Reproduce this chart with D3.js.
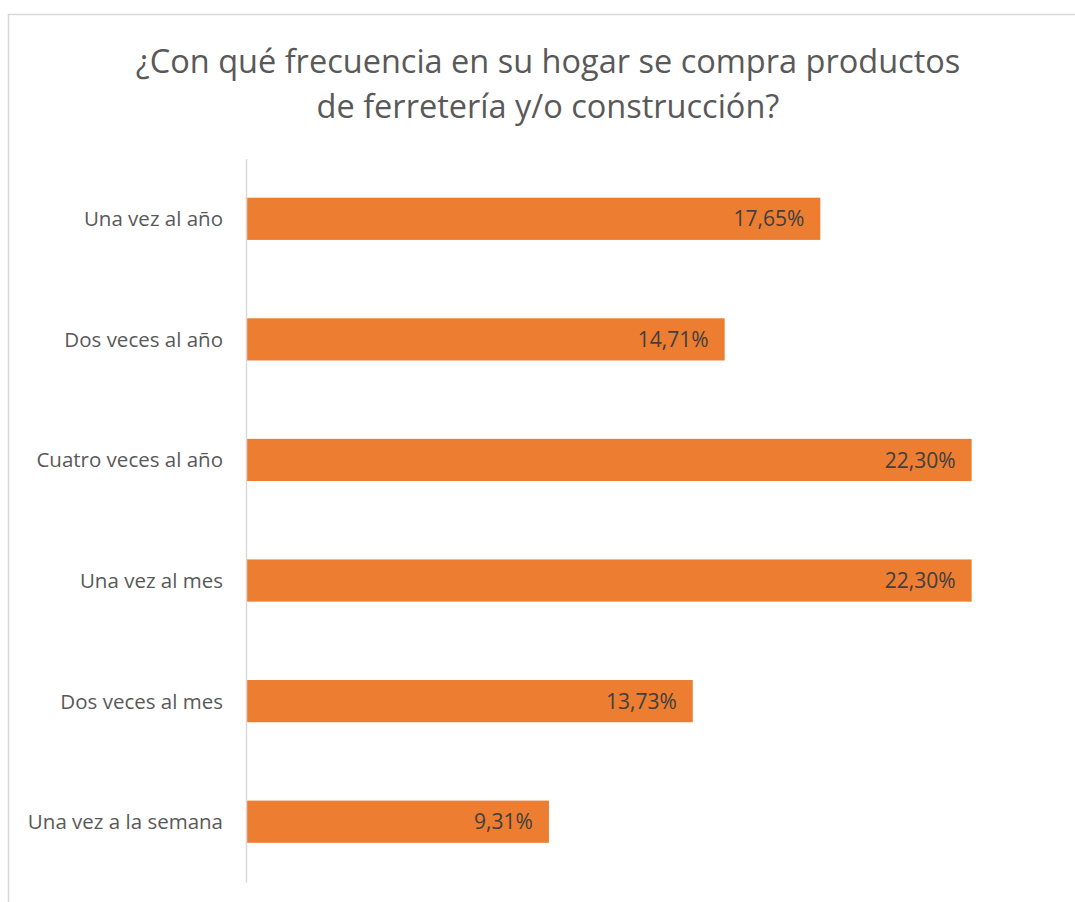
<!DOCTYPE html>
<html>
<head>
<meta charset="utf-8">
<script src="https://cdn.jsdelivr.net/npm/d3@7"></script>
<style>
  body { margin: 0; background: #fff; }
  svg { display: block; font-family: "Open Sans", sans-serif; }
</style>
</head>
<body>
<div id="chart"></div>
<script>
// Datos del gráfico
const categorias = ["Una vez al año", "Dos veces al año", "Cuatro veces al año", "Una vez al mes", "Dos veces al mes", "Una vez a la semana"];
const valores = [17.65, 14.71, 22.30, 22.30, 13.73, 9.31];
const titulo = ["¿Con qué frecuencia en su hogar se compra productos", "de ferretería y/o construcción?"];

const W = 1075, H = 902;
const margin = {top: 158.5, right: 16, bottom: 19, left: 246};

const svg = d3.select("#chart")
    .append("svg")
    .attr("width", W)
    .attr("height", H);

// Borde del área del gráfico
svg.append("rect")
    .attr("x", 8.5)
    .attr("y", 14.5)
    .attr("width", W)
    .attr("height", H)
    .attr("fill", "none")
    .attr("stroke", "#d9d9d9")
    .attr("stroke-width", 1.5);

// Título
svg.append("text")
    .attr("text-anchor", "middle")
    .attr("fill", "#595959")
    .style("font-size", "32.5px")
    .selectAll("tspan")
    .data(titulo)
    .enter()
    .append("tspan")
    .attr("x", 548)
    .attr("y", (d, i) => 72.5 + i * 45)
    .text(d => d);

// Escalas
const xScale = d3.scaleLinear()
    .domain([0, 25])
    .range([margin.left, margin.left + 25 * 32.54]);

const yScale = d3.scaleBand()
    .domain(categorias)
    .range([margin.top, H - margin.bottom - 1])
    .paddingInner(0.65)
    .paddingOuter(0.325);

// Barras
svg.selectAll("rect.bar")
    .data(valores)
    .enter()
    .append("rect")
    .attr("class", "bar")
    .attr("x", xScale(0))
    .attr("y", (d, i) => yScale(categorias[i]))
    .attr("width", d => xScale(d) - xScale(0))
    .attr("height", yScale.bandwidth())
    .attr("fill", "#ed7d31");

// Etiquetas de datos
svg.selectAll("text.valor")
    .data(valores)
    .enter()
    .append("text")
    .attr("class", "valor")
    .attr("x", d => xScale(d) - 16)
    .attr("y", (d, i) => yScale(categorias[i]) + yScale.bandwidth() / 2)
    .attr("dy", "0.36em")
    .attr("text-anchor", "end")
    .attr("fill", "#404040")
    .style("font-size", "21px")
    .text(d => d.toFixed(2).replace(".", ",") + "%");

// Eje vertical
const yAxis = svg.append("g")
    .attr("transform", `translate(${margin.left},0)`)
    .call(d3.axisLeft(yScale).tickSize(0).tickPadding(23));

yAxis.select(".domain")
    .attr("stroke", "#d9d9d9")
    .attr("stroke-width", 1.5);

yAxis.selectAll("text")
    .attr("fill", "#595959")
    .attr("dy", "0.36em")
    .style("font-family", "'Open Sans', sans-serif")
    .style("font-size", "20.5px");
</script>
</body>
</html>
